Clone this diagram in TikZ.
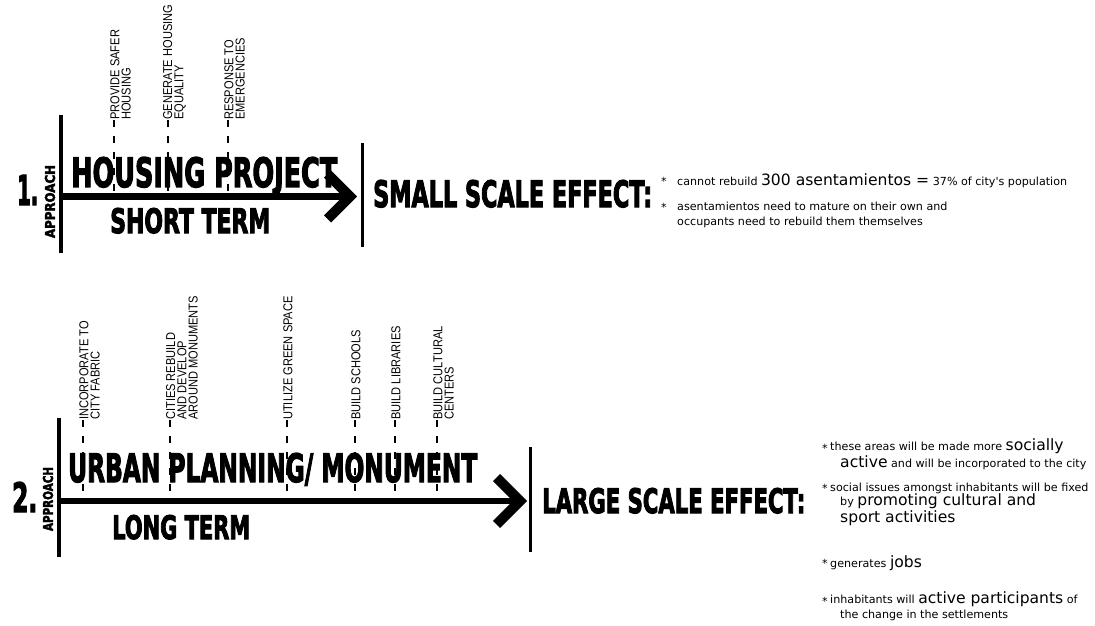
\documentclass[tikz,border=0pt]{standalone}
\usepackage{fontspec}
\usepackage{graphicx}
\newfontfamily\titlefont{DejaVu Sans}[BoldFeatures={FakeBold=3.5}]
\newfontfamily\labelfont{Liberation Sans}
\newfontfamily\bodyfont{DejaVu Sans}
\newdimen\px \px=0.3mm
\newcommand{\fitbox}[3]{\resizebox{#1\px}{#2\px}{\titlefont\bfseries #3}}
\newcommand{\bigword}{\fontsize{13.3}{15}\selectfont}
\tikzset{
  bar/.style={line width=4\px},
  thinbar/.style={line width=3\px},
  axisline/.style={line width=6\px},
  chevron/.style={line width=10\px, line join=miter},
  tickline/.style={line width=1.3\px, dash pattern=on 7\px off 9\px},
  title/.style={inner sep=0pt, anchor=base west},
  lab/.style={inner sep=0pt, rotate=90, xscale=0.86, anchor=west, align=left, font=\labelfont\fontsize{11}{9.6}\selectfont},
  bul/.style={inner sep=0pt, anchor=base, font=\bodyfont\fontsize{9.5}{12.5}\selectfont},
  item/.style={inner sep=0pt, anchor=base west, align=left, font=\bodyfont\fontsize{9.5}{12.5}\selectfont}
}
\begin{document}
\begin{tikzpicture}[x=0.3mm, y=-0.3mm]
\useasboundingbox (0,0) rectangle (1095,626);

% Approach 1: bars and axis
\draw[bar] (61,115) -- (61,253);
\draw[thinbar] (362,143) -- (362,247);
\coordinate (a1) at (61,196.5);
\coordinate (v1) at (350,196.5);

% Approach 1: actions
\foreach \x/\n/\txt [count=\i] in {114/2/{PROVIDE SAFER\\HOUSING}, 168/2/{GENERATE HOUSING\\EQUALITY}, 228/2/{RESPONSE TO\\EMERGENCIES}} {
  \coordinate (k1\i) at (\x,196.5);
  \node[lab] (s\i) at ({\x+1+(\n-1)*5.5},120) {\txt};
  \draw[tickline] (s\i.west -| k1\i) -- (k1\i);
}
\draw[axisline] (a1) -- (v1);
\draw[chevron] ([shift={(-22.5,-22.5)}]v1) -- (v1) -- ([shift={(-22.5,22.5)}]v1);

% Approach 1: titles
\node[title] (n1) at (17,205) {\fitbox{21}{30}{1.}};
\node[inner sep=0pt, rotate=90] (ap1) at (50,201.5) {\fitbox{73}{10}{APPROACH}};
\node[title] (hp) at (71,187) {\fitbox{266}{30}{HOUSING PROJECT}};
\node[title] (st) at (110,233) {\fitbox{160}{25}{SHORT TERM}};
\node[title] (sse) at (373,207) {\fitbox{279}{27}{SMALL SCALE EFFECT:}};

% Approach 1: effects
\node[bul] (b11) at (664,186) {*};
\node[item] (c11) at (677,186) {cannot rebuild {\bigword 300 asentamientos =} 37\% of city's population};
\node[bul] (b12) at (664,211) {*};
\node[item] (c12) at (677,225) {asentamientos need to mature on their own and\\occupants need to rebuild them themselves};

% Approach 2: bars and axis
\draw[bar] (59,418) -- (59,557);
\draw[thinbar] (530,447) -- (530,552);
\coordinate (a2) at (59,501);
\coordinate (v2) at (520,501);

% Approach 2: actions
\foreach \x/\n/\txt [count=\i] in {83/2/{INCORPORATE TO\\CITY FABRIC}, 170/3/{CITIES REBUILD\\AND DEVELOP\\AROUND MONUMENTS}, 287/1/{UTILIZE GREEN SPACE}, 355/1/{BUILD SCHOOLS}, 395/1/{BUILD LIBRARIES}, 437/2/{BUILD CULTURAL\\CENTERS}} {
  \coordinate (k2\i) at (\x,501);
  \node[lab] (u\i) at ({\x+1+(\n-1)*5.5},420) {\txt};
  \draw[tickline] (u\i.west -| k2\i) -- (k2\i);
}
\draw[axisline] (a2) -- (v2);
\draw[chevron] ([shift={(-23.5,-23.5)}]v2) -- (v2) -- ([shift={(-23.5,23.5)}]v2);

% Approach 2: titles
\node[title] (n2) at (12,512) {\fitbox{25}{30}{2.}};
\node[inner sep=0pt, rotate=90] (ap2) at (48,499) {\fitbox{64}{10}{APPROACH}};
\node[title] (up) at (68,482) {\fitbox{409}{29}{URBAN PLANNING/ MONUMENT}};
\node[title] (lt) at (112,539) {\fitbox{138}{24}{LONG TERM}};
\node[title] (lse) at (542,513) {\fitbox{263}{25}{LARGE SCALE EFFECT:}};

% Approach 2: effects
\node[bul] (b21) at (825,452) {*};
\node[item] (c21) at (830,467) {these areas will be made more {\bigword socially}\\\hspace*{10\px}{\bigword active} and will be incorporated to the city};
\node[bul] (b22) at (825,492) {*};
\node[item] (c22) at (830,522) {social issues amongst inhabitants will be fixed\\\hspace*{10\px}by {\bigword promoting cultural and}\\\hspace*{10\px}{\bigword sport activities}};
\node[bul] (b23) at (825,567) {*};
\node[item] (c23) at (830,567) {generates {\bigword jobs}};
\node[bul] (b24) at (825,605) {*};
\node[item] (c24) at (830,618) {inhabitants will {\bigword active participants} of\\\hspace*{10\px}the change in the settlements};
\end{tikzpicture}
\end{document}
